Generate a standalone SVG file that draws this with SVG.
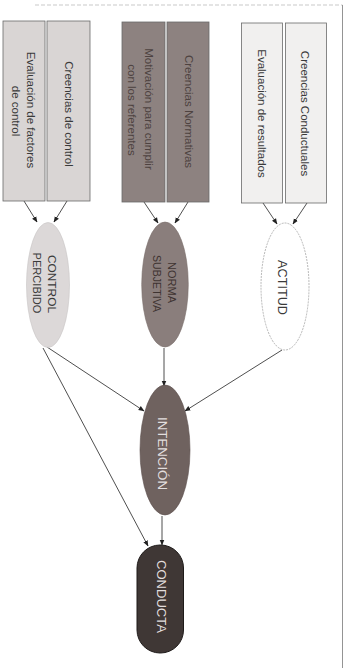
<svg xmlns="http://www.w3.org/2000/svg" width="348" height="668" viewBox="0 0 348 668">
<style>
text{font-family:"Liberation Sans",Arial,sans-serif;text-anchor:middle}
.bt{font-size:11.5px;fill:#3a3a3a}
.bn{font-size:11.5px;fill:#4e4341}
.et{font-size:11.5px;fill:#3a3a3a}
.ew{font-size:13px;fill:#e2dede}
.box{stroke:#6a6a6a;stroke-width:0.8}
.c{stroke:#222;stroke-width:0.8;fill:none;marker-end:url(#ah)}
</style>
<defs>
<marker id="ah" viewBox="0 0 10 10" refX="9" refY="5" markerWidth="6" markerHeight="6" orient="auto" markerUnits="userSpaceOnUse">
<path d="M0,1 L10,5 L0,9 z" fill="#222"/>
</marker>
</defs>
<rect width="348" height="668" fill="#ffffff"/>
<g id="frame">
<line x1="35" y1="5" x2="342.5" y2="5" stroke="#bbb" stroke-width="0.8" stroke-dasharray="4 2"/>
<line x1="342.5" y1="5" x2="342.5" y2="668" stroke="#888" stroke-width="0.9"/>
</g>
<g id="connectors">
<line class="c" x1="24" y1="201" x2="37" y2="222"/>
<line class="c" x1="67" y1="201" x2="54" y2="222"/>
<line class="c" x1="144" y1="202" x2="158" y2="223"/>
<line class="c" x1="188" y1="202" x2="175" y2="223"/>
<line class="c" x1="263" y1="203" x2="277" y2="224"/>
<line class="c" x1="307" y1="203" x2="293" y2="224"/>
<line class="c" x1="47" y1="347" x2="144" y2="411"/>
<line class="c" x1="43" y1="348" x2="148" y2="546"/>
<line class="c" x1="164" y1="348" x2="164" y2="386"/>
<line class="c" x1="282" y1="350" x2="185" y2="411"/>
<line class="c" x1="162" y1="516" x2="162" y2="545"/>
</g>
<g id="box-evaluacion-factores">
<rect class="box" x="3" y="21" width="42" height="180" fill="#d9d5d4"/>
<text class="bt" transform="translate(27,110) rotate(90)">Evaluación de factores</text>
<text class="bt" transform="translate(12,111) rotate(90)">de control</text>
</g>
<g id="box-creencias-control">
<rect class="box" x="47" y="21" width="43" height="180" fill="#d9d5d4"/>
<text class="bt" transform="translate(64.5,114) rotate(90)">Creencias de control</text>
</g>
<g id="box-motivacion">
<rect class="box" x="122" y="22" width="43" height="180" fill="#8d8280"/>
<text class="bn" transform="translate(145,109) rotate(90)">Motivación para cumplir</text>
<text class="bn" transform="translate(128,110) rotate(90)">con los referentes</text>
</g>
<g id="box-creencias-normativas">
<rect class="box" x="167" y="22" width="42" height="180" fill="#8d8280"/>
<text class="bn" transform="translate(184.5,111.5) rotate(90)">Creencias Normativas</text>
</g>
<g id="box-evaluacion-resultados">
<rect class="box" x="241.5" y="23" width="41" height="180" fill="#f1f0ef"/>
<text class="bt" transform="translate(258,113.5) rotate(90)">Evaluación de resultados</text>
</g>
<g id="box-creencias-conductuales">
<rect class="box" x="285.5" y="23" width="41" height="180" fill="#f1f0ef"/>
<text class="bt" transform="translate(301,113.5) rotate(90)">Creencias Conductuales</text>
</g>
<g id="control-percibido">
<ellipse cx="48" cy="285" rx="21.5" ry="62.5" fill="#dcd8d8" stroke="#c8c4c4" stroke-width="0.6"/>
<text class="et" transform="translate(47.6,284) rotate(90)" textLength="58" lengthAdjust="spacingAndGlyphs">CONTROL</text>
<text class="et" transform="translate(32.6,283) rotate(90)" textLength="61" lengthAdjust="spacingAndGlyphs">PERCIBIDO</text>
</g>
<g id="norma-subjetiva">
<ellipse cx="165" cy="284.5" rx="23.3" ry="62.5" fill="#8a7e7c" stroke="#7a6e6c" stroke-width="0.6"/>
<text class="et" style="fill:#3e3331" transform="translate(168.4,282.5) rotate(90)" textLength="41" lengthAdjust="spacingAndGlyphs">NORMA</text>
<text class="et" style="fill:#3e3331" transform="translate(153.4,283.5) rotate(90)" textLength="57" lengthAdjust="spacingAndGlyphs">SUBJETIVA</text>
</g>
<g id="actitud">
<ellipse cx="285" cy="286.5" rx="24" ry="63.5" fill="#ffffff" stroke="#9a9a9a" stroke-width="0.7" stroke-dasharray="2 1"/>
<text class="ew" style="fill:#3a3a3a" transform="translate(278.3,287.5) rotate(90)" textLength="55" lengthAdjust="spacingAndGlyphs">ACTITUD</text>
</g>
<g id="intencion">
<ellipse cx="165" cy="450" rx="25" ry="65" fill="#6f625f" stroke="#5a4e4b" stroke-width="0.6"/>
<text class="ew" transform="translate(158.3,453.5) rotate(90)" textLength="73" lengthAdjust="spacingAndGlyphs">INTENCIÓN</text>
</g>
<g id="conducta">
<rect x="137" y="545" width="46.5" height="108" rx="23" ry="23" fill="#3f3735" stroke="#1e1a19" stroke-width="1"/>
<text class="ew" transform="translate(157,596.5) rotate(90)" textLength="73" lengthAdjust="spacingAndGlyphs">CONDUCTA</text>
</g>
</svg>
